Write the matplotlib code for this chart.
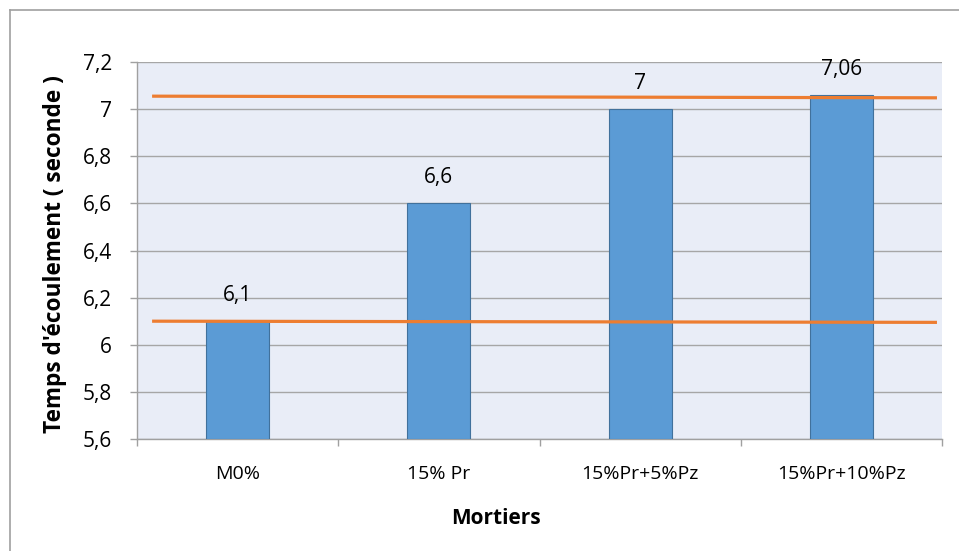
import matplotlib
matplotlib.use("Agg")
import matplotlib.pyplot as plt
from matplotlib.lines import Line2D

plt.rcParams['font.family'] = ['Open Sans', 'DejaVu Sans']

categories = ["M0%", "15% Pr", "15%Pr+5%Pz", "15%Pr+10%Pz"]
values = [6.1, 6.6, 7.0, 7.06]
value_labels = ["6,1", "6,6", "7", "7,06"]
yticks = [5.6, 5.8, 6.0, 6.2, 6.4, 6.6, 6.8, 7.0, 7.2]
ytick_labels = ["5,6", "5,8", "6", "6,2", "6,4", "6,6", "6,8", "7", "7,2"]

# reference lines (start / end levels)
line_x = [-0.425, 3.475]
upper_line = [7.055, 7.048]
lower_line = [6.100, 6.095]

fig = plt.figure(figsize=(9.59, 5.51), dpi=100)
ax = fig.add_axes([137/959, 1-439/551, (942-137)/959, (439-62)/551])
ax.set_facecolor("#E9EDF7")

x = range(len(categories))
ax.bar(x, [v - 5.6 for v in values], bottom=5.6, width=0.313,
       color="#5B9BD5", edgecolor="#41719C", linewidth=0.8, zorder=3)

for xi, v, lab in zip(x, values, value_labels):
    ax.annotate(lab, (xi, v), xytext=(0, 14.5), textcoords="offset points",
                ha="center", va="baseline", fontsize=15, color="#000000", zorder=5)

ax.plot(line_x, upper_line, color="#ED7D31", linewidth=2.3, zorder=4,
        solid_capstyle="butt")
ax.plot(line_x, lower_line, color="#ED7D31", linewidth=2.3, zorder=4,
        solid_capstyle="butt")

ax.set_xlim(-0.5, 3.5)
ax.set_ylim(5.6, 7.2)
ax.set_yticks(yticks)
ax.set_yticklabels(ytick_labels)
ax.set_xticks(list(x))
ax.set_xticklabels(categories)
ax.set_xticks([0.5, 1.5, 2.5, 3.5, -0.5], minor=True)

ax.grid(axis="y", color="#A6A6A6", linewidth=1.0, zorder=1)
ax.set_axisbelow(True)

for side in ["top", "right"]:
    ax.spines[side].set_visible(False)
for side in ["left", "bottom"]:
    ax.spines[side].set_color("#A0A0A0")
    ax.spines[side].set_linewidth(1.0)

ax.tick_params(axis="y", length=5, width=1.0, color="#A0A0A0", pad=13,
               labelsize=15, labelcolor="#000000")
ax.tick_params(axis="x", which="major", length=0, pad=19,
               labelsize=14, labelcolor="#000000")
ax.tick_params(axis="x", which="minor", length=5, width=1.0, color="#A0A0A0")

fig.text(55/959, 1-254/551, "Temps d'écoulement ( seconde )", rotation=90,
         ha="center", va="center", fontsize=16.3, fontweight="bold")
fig.text(496/959, 1-519/551, "Mortiers", ha="center", va="center",
         fontsize=15, fontweight="bold")

# chart frame: top and left edges
fig.add_artist(Line2D([9.5/959, 1.0], [1-10/551, 1-10/551], transform=fig.transFigure,
                      color="#A0A0A0", linewidth=1.2))
fig.add_artist(Line2D([9.5/959, 9.5/959], [0.0, 1-10/551], transform=fig.transFigure,
                      color="#A0A0A0", linewidth=1.2))

fig.savefig("out.png", dpi=100, facecolor="white")
